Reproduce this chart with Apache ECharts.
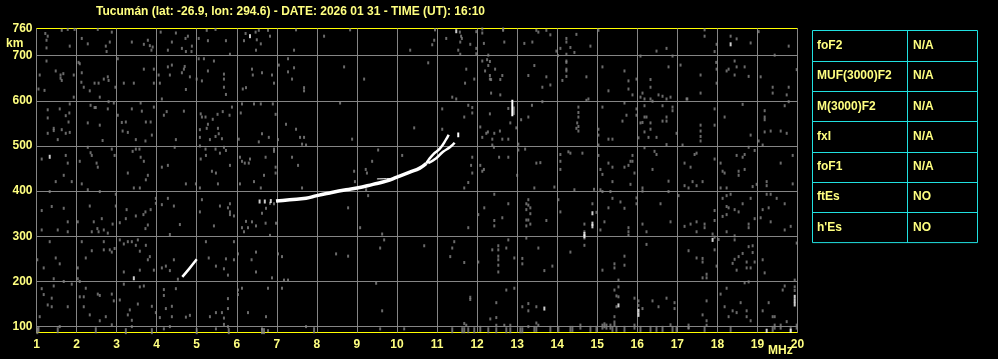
<!DOCTYPE html>
<html><head><meta charset="utf-8">
<script src="https://cdn.jsdelivr.net/npm/echarts@6/dist/echarts.min.js"></script>
<style>html,body{margin:0;padding:0;background:#000}#c{width:998px;height:359px}</style>
</head><body><div id="c"></div>
<script>
const titleText = 'Tucumán (lat: -26.9, lon: 294.6) - DATE: 2026 01 31 - TIME (UT): 16:10';
const freqTicks = [1,2,3,4,5,6,7,8,9,10,11,12,13,14,15,16,17,18,19,20];
const heightTicks = [100,200,300,400,500,600,700,760];
const heightGrid = [100,200,300,400,500,600,700];
const tableParams = ['foF2','MUF(3000)F2','M(3000)F2','fxI','foF1','ftEs',"h'Es"];
const tableValues = ['N/A','N/A','N/A','N/A','N/A','NO','NO'];

// main F-layer trace and its branches (MHz, km)
const traceMain = [[6.98,378],[7.32,381],[7.73,384],[8.0,390],[8.32,396],[8.73,403],[9.0,407],[9.4,415],[9.73,422],[10.0,431],[10.32,442],[10.57,451],[10.73,461]];
const traceUpper = [[10.73,461],[10.78,468],[10.9,481],[11.07,494],[11.23,515],[11.29,525]];
const traceLower = [[10.78,462],[10.98,473],[11.15,487],[11.32,497],[11.44,507]];
const traceTip = [[11.53,519],[11.53,530]];
const traceThin = [[9.5,427],[9.98,428]];
const traceE = [[4.64,210],[4.82,229],[5.0,249]];
const spike1288 = [[12.88,566],[12.88,602]];

const whiteDots = [[6.57,377],[6.7,377],[6.85,378],[14.88,351],[14.88,328],[14.88,322],[14.68,305],[14.68,300],[13.68,140],[15.53,147],[16.03,135],[16.03,126],[17.88,292],[19.93,166],[19.93,157],[19.93,149],[19.23,91],[19.83,91],[6.33,743],[11.48,754],[18.33,725],[3.43,207],[1.33,476]];

const noiseTopA = [[1.22,749],[1.28,743],[1.25,734],[1.25,717],[1.63,756],[1.78,758],[1.95,758],[2.13,738],[2.28,726],[2.53,758],[2.88,752],[2.83,730],[2.73,721],[2.75,709],[3.38,730],[3.68,725],[3.78,734],[3.83,722],[3.9,719],[3.87,712],[4.1,752],[4.38,730],[4.48,750],[4.78,743],[4.72,738],[4.63,716],[4.73,709],[4.88,721],[4.87,709],[4.28,712],[5.05,738],[5.28,733],[5.25,756],[5.47,758],[5.73,733],[5.83,703],[6.18,733],[6.22,749],[6.47,752],[6.5,735],[6.6,726],[6.55,756],[6.78,756],[6.83,743],[6.48,712],[1.83,721],
[1.25,688],[1.08,657],[1.48,666],[1.6,657],[1.67,660],[1.63,645],[1.6,650],[1.93,657],[1.2,623],[1.05,626],[1.93,608],[2.05,685],[2.08,682],[2.13,662],[2.12,641],[2.18,630],[2.33,622],[2.45,639],[2.55,639],[2.58,608],[2.68,648],[2.78,653],[2.8,645],[2.97,630],[3.03,693],[3.18,639],[3.43,639],[3.68,670],[3.93,670],[3.93,639],[4.05,657],[4.08,639],[4.13,604],[4.28,675],[4.33,657],[4.38,679],[4.63,662],[4.68,670],[4.7,676],[4.83,653],[4.73,625],[5.0,648],[5.05,693],[5.18,693],[5.13,644],[5.28,666],[5.43,688],[5.68,659],[5.68,648],[5.68,630],[5.73,614],[6.15,626],[6.23,629],[6.38,670],[6.4,657],[6.63,662],[6.88,657],[6.93,639],[7.05,679],[7.28,664],[7.28,693],
[1.28,580],[1.28,562],[1.58,582],[1.73,567],[1.83,593],[1.82,573],[1.8,553],[1.43,539],[1.43,534],[1.63,536],[1.28,528],[1.73,528],[1.83,530],[1.53,514],[2.28,551],[2.35,590],[2.45,585],[2.48,585],[2.58,546],[2.65,512],[2.78,582],[2.8,598],[2.93,595],[3.03,568],[3.13,552],[3.23,553],[3.28,530],[3.15,533],[3.38,582],[3.63,577],[3.6,595],[3.93,586],[3.85,553],[3.73,553],[3.88,524],[3.48,514],[3.72,511],[4.18,568],[4.25,576],[4.68,577],[4.48,514],[5.1,571],[5.13,564],[5.22,564],[5.28,548],[5.25,539],[5.4,559],[5.52,570],[5.65,576],[5.82,568],[5.88,586],[5.55,527],[5.47,521],[5.33,514],[5.63,516],[5.53,539],[5.08,519],[5.08,536],[6.1,573],[6.13,593],[6.43,593],[6.6,593],[6.9,593],[6.97,570],[7.23,548],[6.63,527],[6.8,519],[6.05,515],[6.55,509],[7.03,514],
[1.13,471],[1.73,479],[1.78,462],[1.68,435],[2.28,497],[2.35,485],[2.38,479],[2.5,462],[2.53,453],[2.08,466],[2.88,493],[2.95,479],[3.28,440],[3.4,488],[3.48,493],[3.57,493],[3.6,475],[3.68,466],[3.78,435],[4.13,453],[4.28,457],[4.45,497],[5.08,500],[5.1,471],[5.22,493],[5.23,479],[5.47,493],[5.58,484],[5.68,497],[5.73,490],[5.38,444],[5.48,440],[5.83,457],[6.08,475],[6.13,466],[6.2,462],[6.3,462],[6.33,471],[6.72,475],[6.93,493],[6.93,488],[6.97,440],[6.97,453],[6.68,435]];

const noiseTopB = [[7.48,757],[8.18,743],[7.43,712],[7.43,673],[7.38,648],[7.68,629],[7.68,622],[8.68,675],[9.18,648],[8.58,595],[8.83,757],[7.48,537],[7.58,519],[7.68,519],[7.63,504],[7.73,502],[7.38,475],[7.53,457],[8.88,515],[8.93,444],[9.22,448],[9.25,440],[9.38,466],[9.53,491],[10.13,479],[10.33,712],[10.43,540],[10.78,684],[10.93,734],[10.88,724],[10.95,757],[11.23,738],[11.13,582],[11.13,537],[11.38,608],[11.48,604],[11.57,752],[11.6,743],[11.62,738],[11.58,730],[11.53,712],[11.58,703],[11.73,670],[11.7,639],[11.83,725],[11.93,648],[11.78,590],[11.88,585],[11.88,573],[11.68,564],[11.98,753],[12.13,759],[12.13,750],[12.17,727],[11.98,716],[11.98,704],[12.28,701],[12.25,691],[12.32,687],[12.13,688],[12.28,678],[12.2,666],[12.32,656],[12.32,648],[12.45,670],[12.35,647],[12.35,617],[12.58,647],[12.58,613],[12.63,656],[12.65,756],[12.65,759],[12.68,730],[12.78,583],[12.83,551],[12.32,571],[12.08,542],[12.23,528],[12.27,531],[12.43,528],[12.57,533],[12.63,515],[12.38,515],[12.38,502],[12.13,519],[12.42,497],[12.78,515],[13.03,504],[13.03,491],[13.2,493],[12.98,540],[13.1,558],[13.18,727],[13.28,656],[13.28,564],[13.37,590],[13.43,678],[13.38,730],[13.48,756],[13.53,752],[13.63,630],[13.63,598],[11.88,475],[11.85,457],[11.88,440],[12.08,457],[12.17,448],[12.13,444],[12.55,475],[12.78,475],[13.48,462],[13.58,463],[13.0,435],[12.92,572],[12.92,578],[12.92,584]];

const noiseTopC = [[13.73,756],[13.83,746],[13.83,635],[13.73,653],[13.98,710],[14.02,700],[14.08,716],[14.23,738],[14.23,730],[14.23,703],[14.23,688],[14.23,685],[14.23,670],[14.23,666],[14.23,654],[14.33,718],[14.43,707],[14.48,747],[14.83,721],[14.73,653],[14.13,645],[15.03,756],[15.13,675],[15.28,622],[15.68,666],[15.78,644],[15.78,626],[15.88,613],[15.98,648],[16.08,699],[16.33,647],[16.33,630],[16.13,617],[16.08,608],[16.18,604],[16.33,604],[16.38,599],[16.53,613],[16.63,610],[16.73,604],[16.83,608],[16.78,675],[16.48,710],[16.73,716],[16.88,699],[17.08,679],[17.25,604],[17.58,657],[17.58,617],[17.68,757],[17.68,743],[17.98,725],[17.93,709],[17.97,685],[17.98,670],[17.98,639],[18.23,666],[18.28,670],[18.43,688],[18.48,675],[18.43,657],[18.68,675],[18.78,654],[18.48,737],[18.33,743],[18.83,728],[19.08,653],[19.03,753],[19.43,701],[19.78,721],[19.98,669],[19.38,630],[19.38,617],[19.78,630],[19.73,613],
[14.73,601],[14.78,604],[14.53,586],[14.53,574],[14.53,564],[14.5,551],[14.53,543],[14.53,533],[14.48,539],[15.13,586],[15.68,595],[15.73,568],[15.63,555],[15.03,537],[15.03,524],[15.28,515],[15.38,515],[15.98,582],[15.98,568],[16.18,589],[16.18,564],[16.23,564],[16.13,552],[16.08,551],[16.33,551],[16.33,537],[16.18,531],[16.03,518],[16.28,519],[16.48,519],[16.63,589],[16.63,555],[16.73,564],[16.73,555],[16.88,586],[16.88,578],[16.98,528],[17.23,604],[17.58,546],[17.58,533],[17.58,521],[17.58,511],[17.93,582],[17.93,546],[18.18,564],[18.63,592],[18.83,524],[19.03,511],[19.18,578],[19.18,564],[19.18,558],[19.18,531],[19.33,533],[19.58,533],[19.73,528],[19.68,589],[19.78,598],
[14.08,481],[14.08,466],[14.08,448],[14.33,484],[14.28,487],[14.63,484],[15.03,502],[15.03,479],[15.08,448],[15.13,437],[15.28,462],[15.38,453],[15.68,453],[15.78,457],[15.83,466],[15.88,479],[15.88,466],[15.93,440],[16.18,496],[16.43,488],[16.48,481],[16.38,448],[16.73,503],[17.13,502],[17.18,462],[17.33,453],[17.43,481],[17.48,484],[17.93,471],[18.08,462],[18.13,444],[18.18,440],[18.48,479],[18.53,444],[18.53,435],[18.63,475],[18.68,481],[18.68,448],[18.78,497],[18.93,490],[19.13,502],[19.58,462],[19.88,479]];

const noiseLowA = [[1.48,421],[1.88,421],[2.13,416],[2.28,403],[2.58,399],[2.98,393],[3.43,407],[3.58,407],[3.73,425],[4.73,416],[4.98,416],[5.08,407],[5.53,416],[6.08,416],[6.43,421],[6.6,407],[1.33,399],[1.13,357],[1.38,366],[1.68,362],[1.78,332],[1.13,314],[1.53,314],[1.78,310],[2.03,332],[2.33,367],[2.43,332],[2.63,339],[2.9,327],[2.78,307],[2.55,310],[2.38,310],[2.52,317],[2.68,314],[2.98,367],[3.08,330],[3.23,339],[3.25,359],[3.48,345],[3.67,348],[3.72,354],[3.85,359],[3.72,317],[3.78,325],[3.98,384],[3.98,373],[4.13,370],[4.28,384],[4.43,367],[4.58,326],[4.33,304],[5.08,354],[5.13,381],[5.43,323],[5.58,367],[5.78,363],[5.83,348],[5.83,354],[5.93,345],[5.83,372],[6.23,333],[6.38,332],[6.28,319],[6.18,310],[6.13,319],[6.48,323],[6.63,351],[6.73,362],[6.83,373],[6.93,372],[6.72,329],[6.83,302],[6.98,329],
[1.33,288],[1.48,252],[1.58,239],[1.18,230],[1.02,248],[2.03,230],[2.13,288],[2.23,252],[2.38,268],[2.68,288],[2.68,270],[2.83,270],[2.88,265],[2.95,273],[3.08,292],[3.18,283],[3.28,288],[3.38,288],[3.48,280],[3.53,292],[3.58,267],[3.73,280],[3.83,255],[3.78,248],[3.93,225],[3.18,221],[3.58,225],[4.13,230],[4.23,234],[4.43,248],[4.33,224],[4.53,205],[5.23,288],[5.3,252],[5.48,234],[5.73,250],[5.68,228],[5.78,214],[5.93,288],[6.03,261],[5.93,248],[6.37,248],[6.48,265],[6.48,221],[6.88,208],[7.03,261],[7.13,255],[7.18,203],[7.28,203],
[1.43,206],[1.68,200],[2.03,206],[2.08,200],[1.13,184],[1.43,190],[1.88,194],[1.38,163],[1.38,144],[1.28,148],[1.18,171],[1.08,122],[1.78,144],[2.23,185],[2.08,166],[2.18,166],[2.18,144],[2.33,126],[2.53,172],[2.58,169],[2.73,122],[2.58,113],[2.88,172],[2.93,157],[3.08,159],[3.18,194],[3.28,126],[3.33,137],[3.38,114],[3.53,150],[3.58,188],[3.68,190],[3.88,145],[3.98,131],[4.08,120],[4.18,182],[4.18,169],[4.38,145],[4.23,140],[4.38,122],[4.48,184],[4.18,95],[4.33,100],[4.73,121],[4.83,125],[5.33,122],[5.48,131],[5.63,131],[5.68,119],[5.78,162],[5.78,140],[5.68,105],[5.78,100],[6.03,181],[6.03,171],[6.13,185],[6.28,131],[6.73,122],[6.78,185],[7.13,185],[1.02,95],[1.58,100],[2.88,104],[3.38,100],[5.48,95],[6.63,95],[6.78,91]];

const noiseLowB = [[7.63,407],[8.78,363],[9.08,319],[9.28,390],[9.23,403],[8.95,421],[9.63,305],[9.68,292],[9.58,274],[8.48,261],[8.78,256],[9.48,196],[9.63,135],[10.68,279],[11.43,288],[11.38,274],[11.33,255],[11.68,242],[11.68,407],[11.78,419],[11.78,319],[12.03,348],[12.03,243],[12.43,393],[12.43,335],[12.43,323],[12.18,363],[12.63,341],[12.78,372],[12.78,292],[12.38,270],[12.53,279],[12.53,270],[12.53,256],[12.53,248],[12.53,236],[12.53,221],[12.73,274],[12.93,252],[13.13,251],[13.13,239],[13.28,381],[13.23,372],[13.28,369],[13.33,363],[13.23,359],[13.33,350],[13.23,336],[13.28,336],[13.33,327],[13.23,323],[13.23,296],[13.43,407],[13.53,274],[12.73,181],[12.93,185],[11.83,165],[11.83,160],[12.48,153],[12.33,117],[12.48,120],[13.13,144],[13.28,151],[13.28,135],[13.48,144],[13.48,108],[13.53,103],[7.73,100],[9.58,95],[10.18,95],[11.68,107],[11.73,103],[12.48,103],[12.68,103],[12.83,103],[13.28,100]];

const noiseLowC = [[13.93,409],[14.43,403],[14.92,404],[15.08,403],[15.13,399],[15.33,399],[15.38,421],[15.83,415],[16.13,407],[16.13,400],[16.78,422],[16.78,399],[17.18,412],[17.38,421],[17.28,407],[17.48,412],[17.63,421],[18.08,407],[18.23,407],[18.88,410],[18.98,415],[19.23,421],[19.23,412],[19.88,416],[14.03,381],[14.08,354],[13.73,335],[14.68,327],[14.88,372],[14.98,353],[15.18,332],[15.08,314],[15.28,363],[15.38,384],[15.58,376],[15.68,362],[15.78,319],[15.78,310],[15.78,302],[15.98,385],[15.98,372],[16.13,327],[16.23,310],[16.58,372],[16.83,332],[17.03,390],[17.18,322],[17.33,327],[17.48,332],[17.48,310],[17.68,327],[17.68,319],[17.93,357],[17.93,335],[18.13,384],[18.13,344],[18.23,390],[18.23,366],[18.23,348],[18.23,310],[18.28,363],[18.33,393],[18.43,359],[18.43,301],[18.53,354],[18.63,372],[18.78,327],[18.78,319],[18.83,384],[18.93,339],[19.08,341],[19.13,359],[19.23,393],[19.28,363],[19.33,393],[19.33,332],[19.48,384],[19.68,372],[19.68,314],[19.83,322],
[14.68,280],[14.33,265],[13.88,234],[13.68,224],[15.13,225],[15.43,239],[15.43,230],[15.68,256],[15.68,236],[16.23,282],[17.28,268],[17.48,252],[17.63,251],[17.63,243],[17.73,216],[17.63,208],[17.73,208],[17.88,305],[17.93,298],[18.03,293],[17.93,270],[17.98,234],[18.43,292],[18.43,249],[18.48,225],[18.38,240],[18.53,255],[18.63,262],[18.78,277],[18.88,279],[18.88,264],[18.93,243],[18.73,243],[18.73,230],[18.83,230],[19.13,248],[19.18,219],[19.98,285],
[15.43,181],[15.53,203],[15.53,188],[15.53,166],[15.48,168],[15.48,144],[15.43,122],[15.93,163],[16.03,157],[16.03,147],[16.13,140],[16.38,157],[16.53,144],[16.73,163],[16.93,153],[16.93,140],[16.83,104],[17.28,98],[17.73,157],[17.63,126],[17.73,113],[17.73,103],[18.23,185],[18.08,172],[18.18,144],[18.28,122],[18.38,135],[18.48,131],[18.58,153],[18.68,197],[18.78,199],[18.73,135],[18.73,122],[18.83,113],[19.13,135],[19.28,153],[19.38,122],[19.43,122],[19.63,181],[19.68,190],[19.73,111],[19.93,203],[19.93,188],[19.93,180],[14.68,296],[14.68,310]];

const noiseFloor = [[1.02,90],[1.05,93],[1.53,92],[2.48,92],[3.23,90],[3.88,90],[5.0,90],[5.8,90],[6.63,90],[6.68,90],[7.93,92],[11.38,92],[11.63,92],[11.68,92],[11.78,92],[11.93,92],[12.08,95],[12.28,92],[12.48,92],[12.73,92],[12.83,92],[13.08,92],[13.13,92],[13.43,95],[13.48,95],[13.83,95],[14.03,95],[14.33,95],[14.38,95],[14.58,100],[14.83,95],[14.98,95],[15.13,100],[15.18,103],[15.23,100],[15.33,100],[15.38,95],[15.43,107],[15.48,95],[15.68,95],[15.93,100],[16.08,95],[16.33,95],[16.48,95],[16.63,95],[16.88,95],[16.98,95],[17.28,100],[17.68,95],[18.33,95],[19.38,95],[19.43,100],[19.58,100],[19.83,95],[19.98,100]];

const yellow = '#ffff80';
const gray = '#858585';
const font = 'Liberation Sans';
const chart = echarts.init(document.getElementById('c'), null, {renderer: 'canvas'});

const lineS = (data, w) => ({type: 'line', data, showSymbol: false, symbol: 'none', smooth: true, silent: true,
  lineStyle: {color: '#ffffff', width: w}, z: 5, animation: false});

// table graphics
const tX = 812.5, tW = 165, tDiv = 907.5, tTop = 30.5, rowH = 30.3;
const tableGraphics = [{type: 'rect', shape: {x: tX, y: tTop, width: tW, height: rowH * tableParams.length},
  style: {fill: 'none', stroke: '#20e0e0', lineWidth: 1}},
  {type: 'line', shape: {x1: tDiv, y1: tTop, x2: tDiv, y2: tTop + rowH * tableParams.length}, style: {stroke: '#20e0e0', lineWidth: 1}}];
tableParams.forEach((p, i) => {
  const cy = tTop + rowH * (i + 0.5);
  if (i > 0) {
    const ly = Math.round(tTop + rowH * i) + 0.5;
    tableGraphics.push({type: 'line', shape: {x1: tX, y1: ly, x2: tX + tW, y2: ly}, style: {stroke: '#20e0e0', lineWidth: 1}});
  }
  tableGraphics.push({type: 'text', x: 817, y: cy, style: {text: p, fill: yellow, font: 'bold 12px ' + font, textVerticalAlign: 'middle', verticalAlign: 'middle'}});
  tableGraphics.push({type: 'text', x: 913, y: cy, style: {text: tableValues[i], fill: yellow, font: 'bold 12px ' + font, textVerticalAlign: 'middle', verticalAlign: 'middle'}});
});

chart.setOption({
  backgroundColor: '#000000',
  animation: false,
  title: {text: titleText, left: 91, top: 1, textStyle: {color: yellow, fontSize: 12, fontWeight: 'bold', fontFamily: font}},
  grid: {left: 36.5, top: 28.5, width: 761, height: 304, show: true, borderColor: '#ffff00', borderWidth: 1, backgroundColor: 'transparent', containLabel: false},
  xAxis: {type: 'value', min: freqTicks[0], max: freqTicks[freqTicks.length - 1], interval: 1,
    axisLine: {show: false}, axisTick: {show: false},
    splitLine: {show: true, lineStyle: {color: gray, width: 1}},
    axisLabel: {color: yellow, fontSize: 12, fontWeight: 'bold', fontFamily: font, margin: 6, showMinLabel: true, showMaxLabel: true,
      formatter: v => freqTicks.includes(v) ? String(v) : ''}},
  yAxis: {type: 'value', min: 87, max: 760,
    axisLine: {show: false}, axisTick: {show: false}, splitLine: {show: false},
    axisLabel: {customValues: heightTicks, color: yellow, fontSize: 12, fontWeight: 'bold', fontFamily: font, margin: 4, showMinLabel: true, showMaxLabel: true}},
  graphic: [
    {type: 'text', x: 6, y: 44, style: {text: 'km', fill: yellow, font: 'bold 12px ' + font, verticalAlign: 'middle', textVerticalAlign: 'middle'}},
    {type: 'text', x: 768, y: 351, style: {text: 'MHz', fill: yellow, font: 'bold 12px ' + font, verticalAlign: 'middle', textVerticalAlign: 'middle'}}
  ].concat(tableGraphics),
  series: [
    {type: 'scatter', data: [].concat(noiseTopA, noiseTopB, noiseTopC, noiseLowA, noiseLowB, noiseLowC), symbol: 'rect', symbolSize: [2, 3],
      itemStyle: {color: gray}, silent: true, z: 3,
      markLine: {silent: true, symbol: 'none', label: {show: false}, lineStyle: {color: gray, type: 'solid', width: 1},
        data: heightGrid.map(h => ({yAxis: h})), z: 1, animation: false}},
    {type: 'scatter', data: noiseFloor, symbol: 'rect', symbolSize: [2, 6], itemStyle: {color: gray}, silent: true, z: 3},
    {type: 'scatter', data: whiteDots, symbol: 'rect', symbolSize: [2, 4], itemStyle: {color: '#ffffff'}, silent: true, z: 4},
    lineS(traceMain, 3.5),
    lineS(traceUpper, 2.5),
    lineS(traceLower, 2.5),
    lineS(traceTip, 2),
    lineS(traceThin, 1),
    lineS(traceE, 2.5),
    lineS(spike1288, 2)
  ]
});
</script></body></html>
